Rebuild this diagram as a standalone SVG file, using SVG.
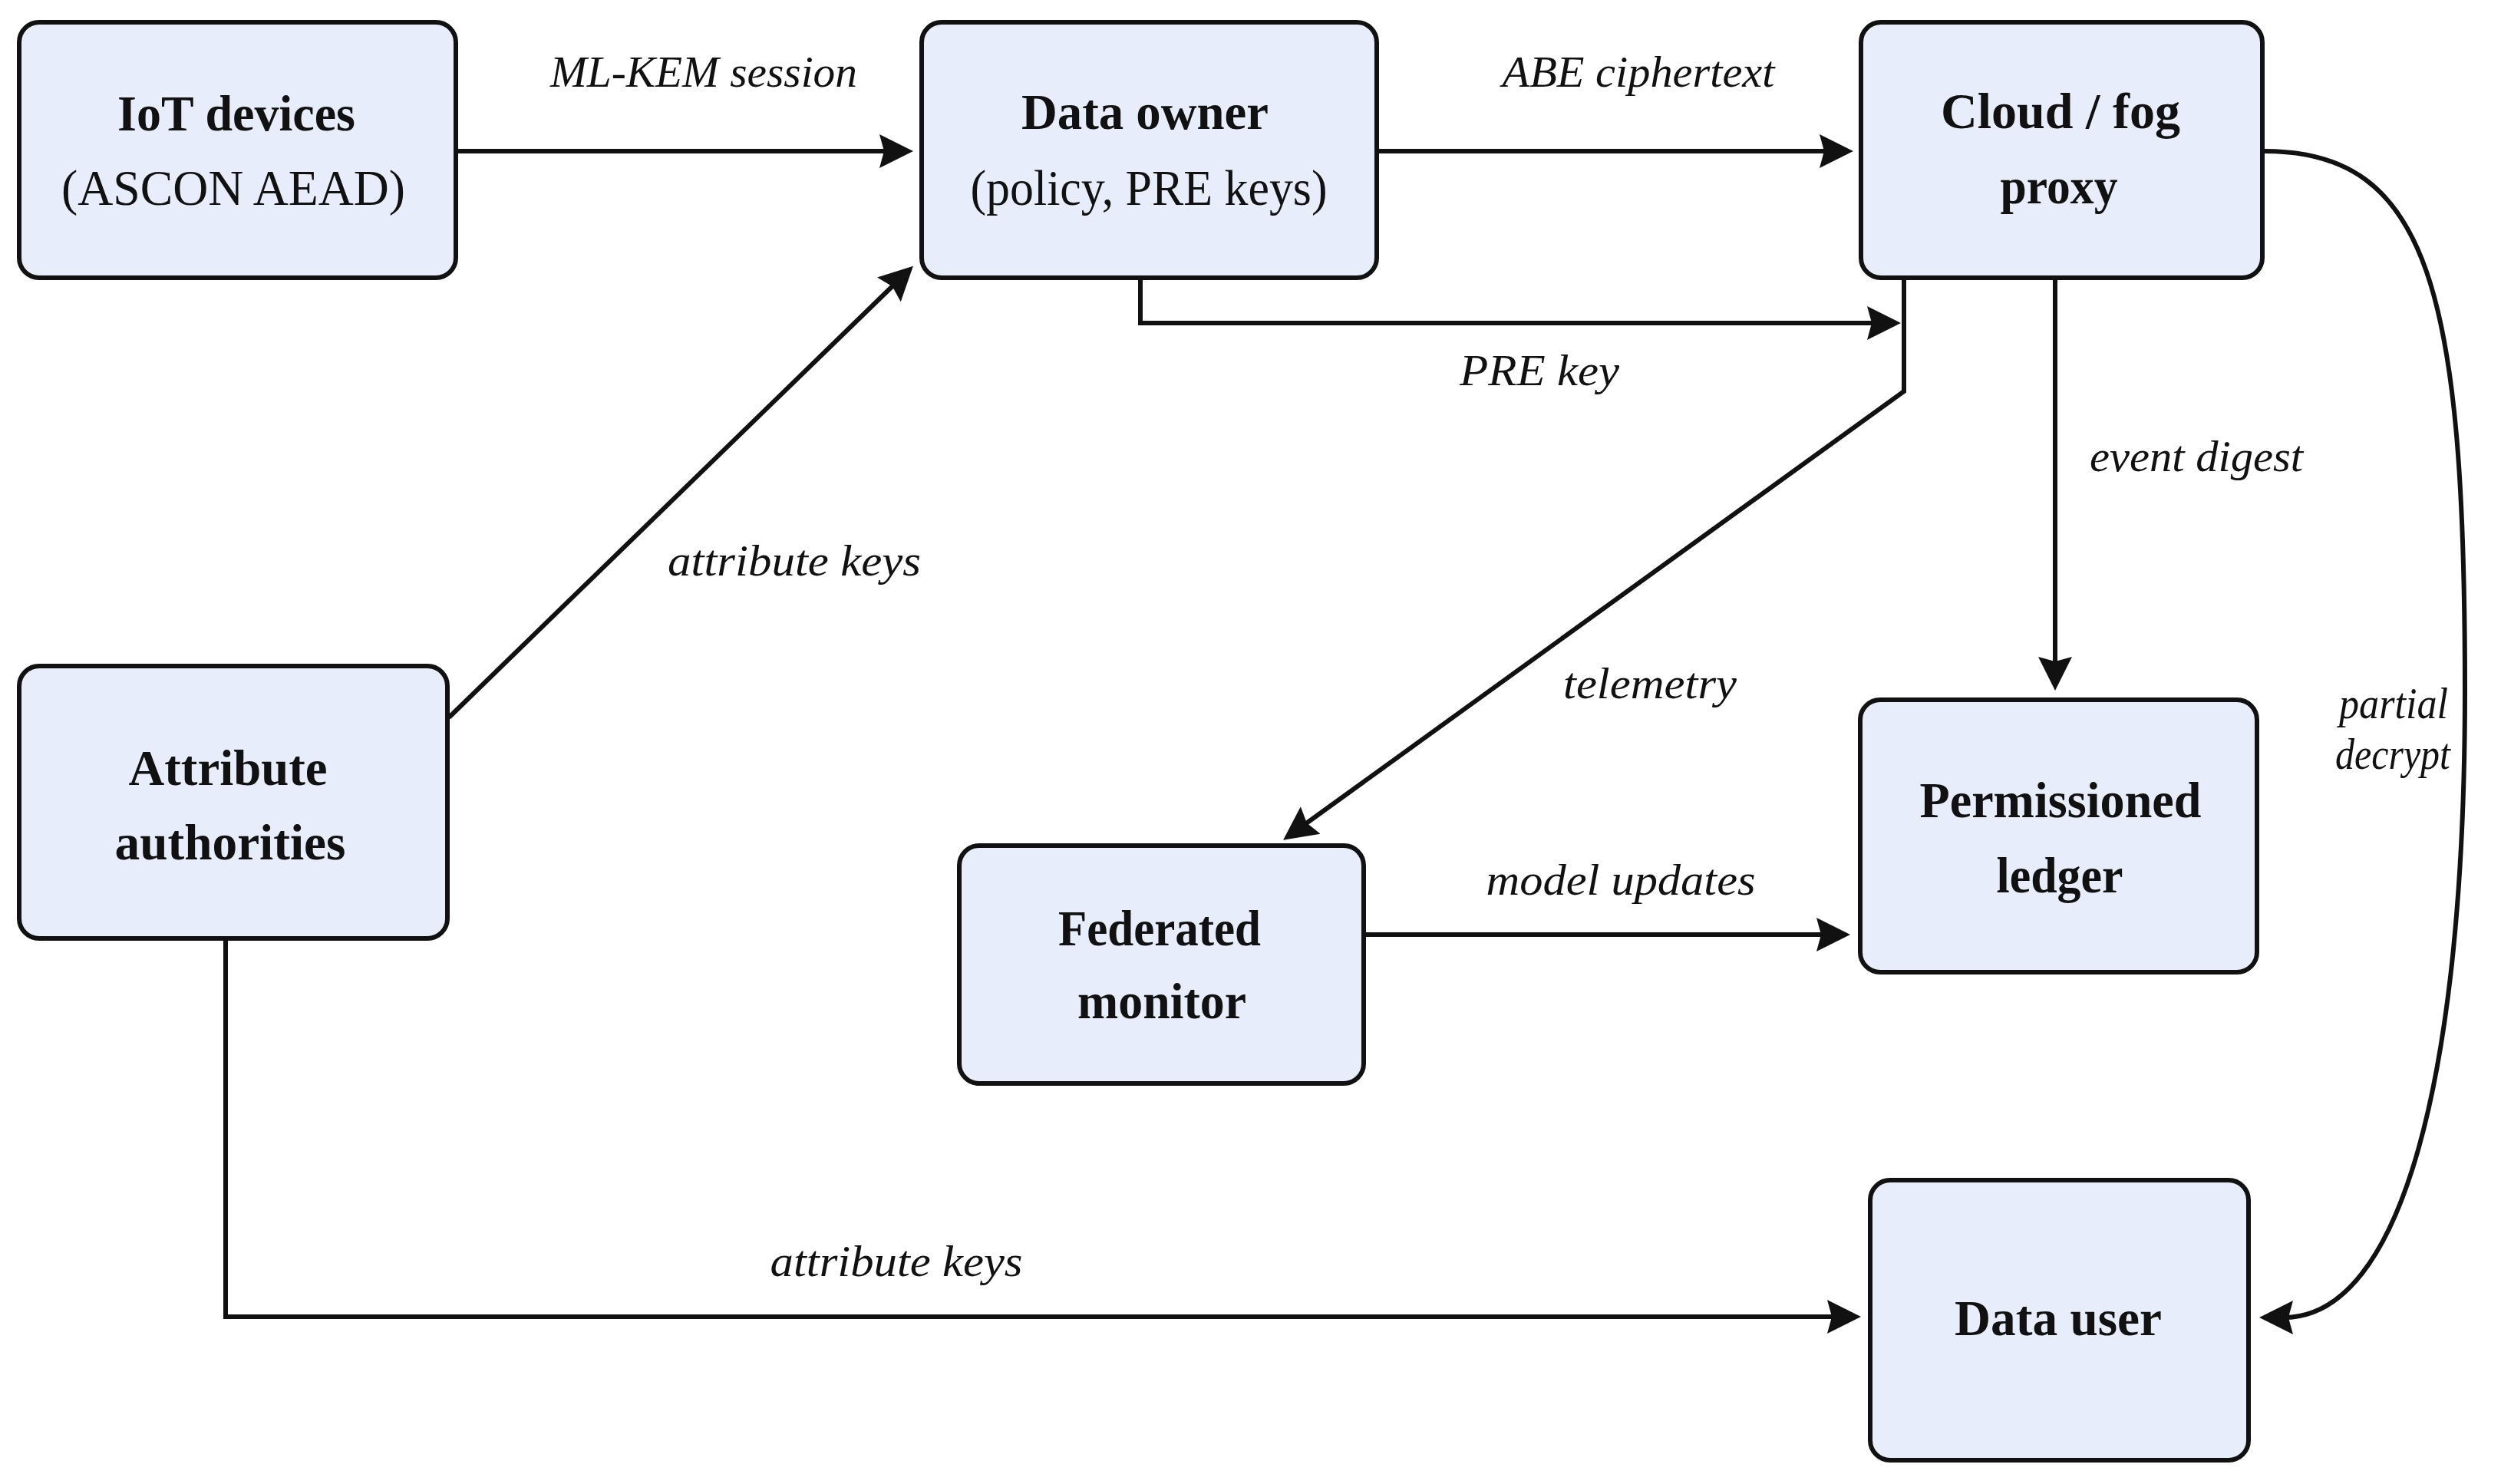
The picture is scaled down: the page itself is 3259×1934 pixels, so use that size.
<svg xmlns="http://www.w3.org/2000/svg" width="3259" height="1934" viewBox="0 0 3259 1934">
<defs>
<style>
.box{fill:#E7EDFB;stroke:#111;stroke-width:6}
.t{font-family:"Liberation Serif","Times New Roman",serif;font-size:66px;fill:#111;text-anchor:middle}
.b{font-weight:bold}
.lbl{font-family:"Liberation Serif","Times New Roman",serif;font-style:italic;font-size:56px;fill:#111;text-anchor:middle}
.e{fill:none;stroke:#111;stroke-width:6}
</style>
<marker id="ah" markerUnits="userSpaceOnUse" markerWidth="46" markerHeight="46" refX="12" refY="22" orient="auto" viewBox="0 0 46 44">
<path d="M0,0 L44,22 L0,44 L6,22 z" fill="#111"/>
</marker>
</defs>
<rect width="3259" height="1934" fill="#fff"/>
<g id="connectors">
<path class="e" d="M594,197 H1158" marker-end="url(#ah)"/>
<path class="e" d="M1794,197 H2383" marker-end="url(#ah)"/>
<path class="e" d="M1486,362 V421 H2445" marker-end="url(#ah)"/>
<path class="e" d="M2481,362 V510 L1698,1076" marker-end="url(#ah)"/>
<path class="e" d="M2678,362 V868" marker-end="url(#ah)"/>
<path class="e" d="M1777,1218 H2379" marker-end="url(#ah)"/>
<path class="e" d="M585,935 L1167,369" marker-end="url(#ah)"/>
<path class="e" d="M294,1223 V1716 H2393" marker-end="url(#ah)"/>
<path class="e" d="M2951,197 C3165,197 3212,380 3212,900 C3212,1400 3130,1717 2976,1717" marker-end="url(#ah)"/>
<text class="lbl" x="917" y="113" textLength="400" lengthAdjust="spacingAndGlyphs">ML-KEM session</text>
<text class="lbl" x="2135" y="113" textLength="355" lengthAdjust="spacingAndGlyphs">ABE ciphertext</text>
<text class="lbl" x="2006" y="502" textLength="208" lengthAdjust="spacingAndGlyphs">PRE key</text>
<text class="lbl" x="1035" y="750" textLength="330" lengthAdjust="spacingAndGlyphs">attribute keys</text>
<text class="lbl" x="2862" y="614" textLength="278" lengthAdjust="spacingAndGlyphs">event digest</text>
<text class="lbl" x="2150" y="910" textLength="226" lengthAdjust="spacingAndGlyphs">telemetry</text>
<text class="lbl" x="3119" y="936" textLength="142" lengthAdjust="spacingAndGlyphs">partial</text>
<text class="lbl" x="3118" y="1002" textLength="150" lengthAdjust="spacingAndGlyphs">decrypt</text>
<text class="lbl" x="2112" y="1166" textLength="351" lengthAdjust="spacingAndGlyphs">model updates</text>
<text class="lbl" x="1168" y="1663" textLength="329" lengthAdjust="spacingAndGlyphs">attribute keys</text>
</g>
<g id="iot">
<rect class="box" x="25" y="29" width="569" height="333" rx="26"/>
<text class="t b" x="308" y="170" textLength="310" lengthAdjust="spacingAndGlyphs">IoT devices</text>
<text class="t" x="304" y="267" textLength="448" lengthAdjust="spacingAndGlyphs">(ASCON AEAD)</text>
</g>
<g id="owner">
<rect class="box" x="1201" y="29" width="593" height="333" rx="26"/>
<text class="t b" x="1492" y="168" textLength="322" lengthAdjust="spacingAndGlyphs">Data owner</text>
<text class="t" x="1497" y="267" textLength="465" lengthAdjust="spacingAndGlyphs">(policy, PRE keys)</text>
</g>
<g id="cloud">
<rect class="box" x="2425" y="29" width="523" height="333" rx="26"/>
<text class="t b" x="2685" y="167" textLength="312" lengthAdjust="spacingAndGlyphs">Cloud / fog</text>
<text class="t b" x="2683" y="265" textLength="153" lengthAdjust="spacingAndGlyphs">proxy</text>
</g>
<g id="authorities">
<rect class="box" x="25" y="868" width="558" height="355" rx="26"/>
<text class="t b" x="297" y="1023" textLength="259" lengthAdjust="spacingAndGlyphs">Attribute</text>
<text class="t b" x="300" y="1120" textLength="301" lengthAdjust="spacingAndGlyphs">authorities</text>
</g>
<g id="monitor">
<rect class="box" x="1250" y="1102" width="527" height="310" rx="26"/>
<text class="t b" x="1511" y="1232" textLength="264" lengthAdjust="spacingAndGlyphs">Federated</text>
<text class="t b" x="1514" y="1327" textLength="220" lengthAdjust="spacingAndGlyphs">monitor</text>
</g>
<g id="ledger">
<rect class="box" x="2424" y="912" width="517" height="355" rx="26"/>
<text class="t b" x="2685" y="1065" textLength="367" lengthAdjust="spacingAndGlyphs">Permissioned</text>
<text class="t b" x="2684" y="1163" textLength="165" lengthAdjust="spacingAndGlyphs">ledger</text>
</g>
<g id="user">
<rect class="box" x="2437" y="1538" width="493" height="365" rx="26"/>
<text class="t b" x="2682" y="1740" textLength="270" lengthAdjust="spacingAndGlyphs">Data user</text>
</g>
</svg>
